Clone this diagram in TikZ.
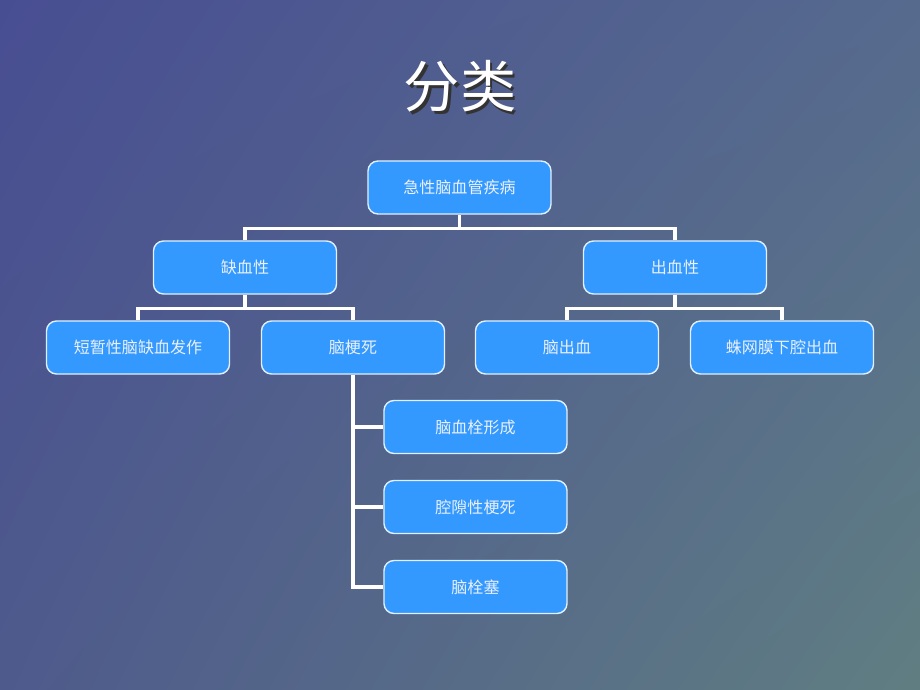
\documentclass[tikz,border=0pt]{standalone}
\usepackage{fontspec}
\setmainfont{Noto Sans CJK SC}
\usetikzlibrary{calc, shadings}
\definecolor{bgTL}{RGB}{72,78,146}
\definecolor{bgTR}{RGB}{86,106,142}
\definecolor{bgBL}{RGB}{78,90,140}
\definecolor{bgBR}{RGB}{96,126,130}
\definecolor{boxblue}{RGB}{51,153,255}
\definecolor{boxtext}{RGB}{235,240,250}
\tikzset{
    my-box/.style={
        draw=white!85!boxblue, line width=1pt, fill=boxblue, rounded corners=0.25cm,
        minimum width=4.575cm, minimum height=1.325cm, inner sep=0pt,
        text=boxtext, font=\fontsize{11.4}{13}\selectfont
    },
    my-wire/.style={
        draw=white, line width=2.4pt
    },
}
\begin{document}
\begin{tikzpicture}[x=0.025cm, y=-0.025cm]

        % BACKGROUND ----------------------------------------------------------------------------------
        \shade[upper left=bgTL, upper right=bgTR, lower left=bgBL, lower right=bgBR] (0, 0) rectangle (920, 690);
        \useasboundingbox (0, 0) rectangle (920, 690);

        % TITLE WITH SHADOW
        \node[text=white, font=\fontsize{40}{44}\selectfont] (TITLE) at (460, 88)
            {\makebox[0pt][l]{\hspace{2pt}\raisebox{-2pt}{\color{black!80}分类}}分类};

        % LEVEL 0 - ROOT
        \node[my-box] (ACUTE) at (459.5, 187.5) {急性脑血管疾病};

        % LEVEL 1
        \node[my-box] (ISCH) at (245, 267.5) {缺血性};
        \node[my-box] (HEMO) at (675, 267.5) {出血性};

        % LEVEL 2
        \node[my-box] (TIA)     at (138, 347.5) {短暂性脑缺血发作};
        \node[my-box] (INFARCT) at (353, 347.5) {脑梗死};
        \node[my-box] (ICH)     at (567, 347.5) {脑出血};
        \node[my-box] (SAH)     at (782, 347.5) {蛛网膜下腔出血};

        % LEVEL 3 - UNDER INFARCT
        \node[my-box] (THROMB)  at (475.5, 427) {脑血栓形成};
        \node[my-box] (LACUNAR) at (475.5, 507) {腔隙性梗死};
        \node[my-box] (EMBOL)   at (475.5, 587) {脑栓塞};

        % BUS POINTS
        \coordinate (ACUTEBUS) at ($(ACUTE.south) + (0, 14)$);
        \coordinate (ISCHBUS)  at ($(ISCH.south)  + (0, 14)$);
        \coordinate (HEMOBUS)  at ($(HEMO.south)  + (0, 14)$);
        \coordinate (INFARCTBUS) at (INFARCT.south);

        % WIRES - ROOT TO LEVEL 1
        \draw[my-wire] (ACUTE.south) -- (ACUTEBUS);
        \draw[my-wire] (ISCH.north) |- (ACUTEBUS) -| (HEMO.north);

        % WIRES - LEVEL 1 TO LEVEL 2
        \draw[my-wire] (ISCH.south) -- (ISCHBUS);
        \draw[my-wire] (TIA.north) |- (ISCHBUS) -| (INFARCT.north);
        \draw[my-wire] (HEMO.south) -- (HEMOBUS);
        \draw[my-wire] (ICH.north) |- (HEMOBUS) -| (SAH.north);

        % WIRES - INFARCT TO LEVEL 3
        \draw[my-wire] (INFARCTBUS) |- (EMBOL.west);
        \draw[my-wire] (INFARCTBUS |- THROMB.west)  -- (THROMB.west);
        \draw[my-wire] (INFARCTBUS |- LACUNAR.west) -- (LACUNAR.west);

    \end{tikzpicture}
\end{document}
